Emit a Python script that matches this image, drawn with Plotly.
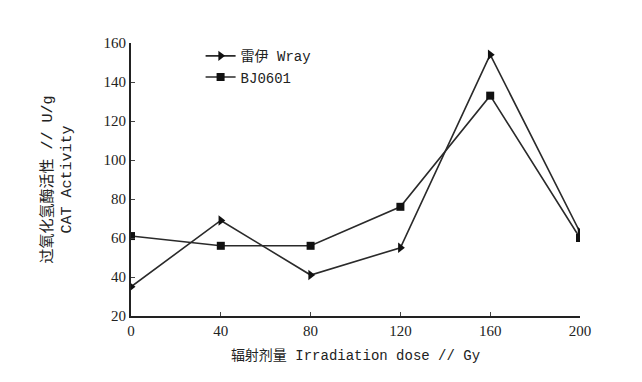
import plotly.graph_objects as go

doses = [0, 40, 80, 120, 160, 200]
wray = [35, 69, 41, 55, 154, 63]
bj0601 = [61, 56, 56, 76, 133, 60]
series_names = ["雷伊 Wray", "BJ0601"]
x_ticks = [0, 40, 80, 120, 160, 200]
y_ticks = [20, 40, 60, 80, 100, 120, 140, 160]

mono = "Liberation Mono, Noto Sans CJK SC, monospace"
serif = "Liberation Serif, Times New Roman, serif"

fig = go.Figure()
fig.add_trace(go.Scatter(x=doses, y=wray, name=series_names[0], mode="lines+markers",
                         line=dict(color="#2a2a2a", width=1.6),
                         marker=dict(symbol="triangle-right", size=9, color="#111")))
fig.add_trace(go.Scatter(x=doses, y=bj0601, name=series_names[1], mode="lines+markers",
                         line=dict(color="#2a2a2a", width=1.6),
                         marker=dict(symbol="square", size=8, color="#111")))

fig.update_layout(
    width=642, height=382,
    paper_bgcolor="white", plot_bgcolor="white",
    margin=dict(l=131, r=62, t=43, b=66),
    showlegend=True,
    legend=dict(x=0.155, y=1.01, xanchor="left", yanchor="top",
                bgcolor="rgba(0,0,0,0)", font=dict(family=mono, size=14, color="#222"),
                tracegroupgap=0, itemsizing="trace"),
    font=dict(family=serif, size=15, color="#222"),
)
fig.update_xaxes(range=[0, 200], tickvals=x_ticks, ticks="inside", ticklen=4,
                 showline=True, linecolor="#222", linewidth=2, showgrid=False, zeroline=False,
                 tickfont=dict(family=serif, size=15, color="#222"),
                 title=dict(text="辐射剂量 Irradiation dose // Gy",
                            font=dict(family=mono, size=14, color="#222"), standoff=12))
fig.update_yaxes(range=[20, 160], tickvals=y_ticks, ticks="inside", ticklen=4,
                 showline=True, linecolor="#222", linewidth=2, showgrid=False, zeroline=False,
                 tickfont=dict(family=serif, size=15, color="#222"),
                 title=dict(text="过氧化氢酶活性 // U/g<br>CAT Activity",
                            font=dict(family=mono, size=15, color="#222"), standoff=28))

fig.write_html("out.html")
